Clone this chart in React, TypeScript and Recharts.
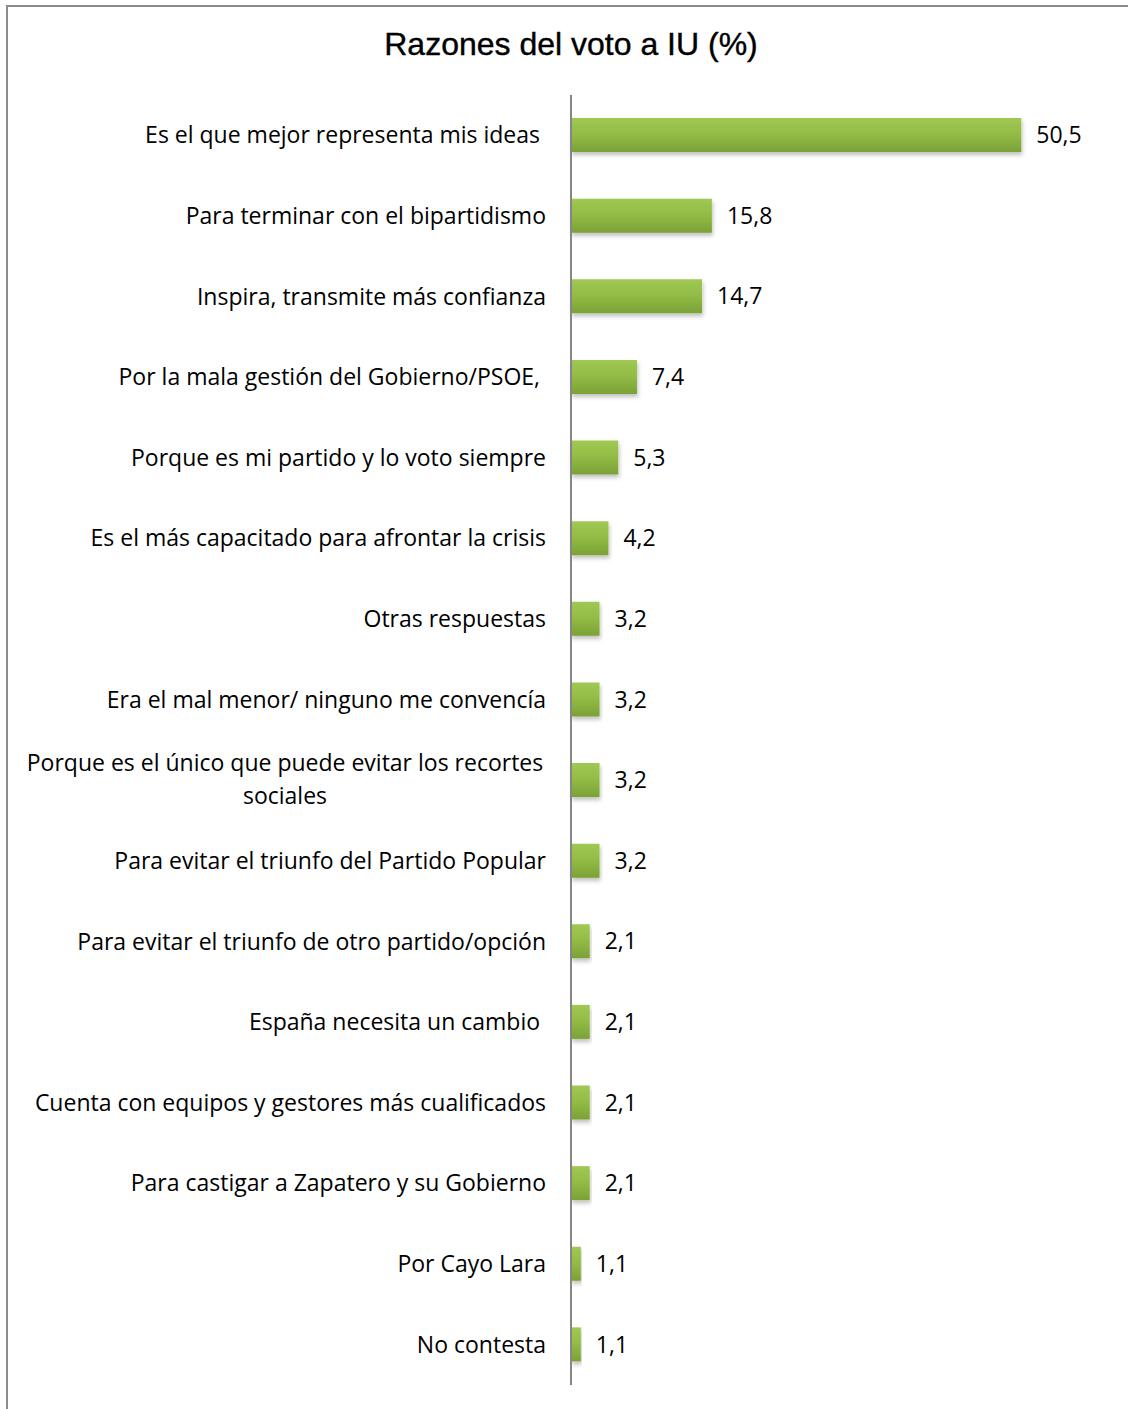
import { BarChart, Bar, XAxis, YAxis, LabelList } from 'recharts';

const razones = [
  'Es el que mejor representa mis ideas ',
  'Para terminar con el bipartidismo',
  'Inspira, transmite más confianza',
  'Por la mala gestión del Gobierno/PSOE, ',
  'Porque es mi partido y lo voto siempre',
  'Es el más capacitado para afrontar la crisis',
  'Otras respuestas',
  'Era el mal menor/ ninguno me convencía',
  'Porque es el único que puede evitar los recortes sociales',
  'Para evitar el triunfo del Partido Popular',
  'Para evitar el triunfo de otro partido/opción',
  'España necesita un cambio ',
  'Cuenta con equipos y gestores más cualificados',
  'Para castigar a Zapatero y su Gobierno',
  'Por Cayo Lara',
  'No contesta',
];

const porcentajes = [50.5, 15.8, 14.7, 7.4, 5.3, 4.2, 3.2, 3.2, 3.2, 3.2, 2.1, 2.1, 2.1, 2.1, 1.1, 1.1];

const data = razones.map((razon, i) => ({ razon, valor: porcentajes[i] }));

const FONT = '"Open Sans", sans-serif';

const formatValor = (v: any) => String(v).replace('.', ',');

const RazonTick = ({ x, y, payload }: any) => {
  const text: string = payload.value;
  if (text.length > 50) {
    // wrapped label, centered like Excel does it
    const cut = text.lastIndexOf(' ', 50);
    const lines = [text.slice(0, cut), text.slice(cut + 1)];
    return (
      <text x={285} y={y} textAnchor="middle" fontFamily={FONT} fontSize={23} fill="#000">
        {lines.map((l, i) => (
          <tspan key={i} x={285} dy={i === 0 ? -9 : 33}>{l}</tspan>
        ))}
      </text>
    );
  }
  return (
    <text x={x} y={y} dy={8} textAnchor="end" fontFamily={FONT} fontSize={23} fill="#000" style={{ whiteSpace: 'pre' }}>
      {text}
    </text>
  );
};

const App = () => {
  return (
    <div style={{ position: 'absolute', left: 0, top: 0, width: 1128, height: 1409, background: '#fff', overflow: 'hidden' }}>
      <div style={{ position: 'absolute', left: 6, top: 5, width: 1140, height: 1420, borderLeft: '2px solid #8c8c8c', borderTop: '2px solid #8c8c8c' }} />
      <div style={{ position: 'absolute', left: 0, width: 1142, top: 26, textAlign: 'center', fontFamily: '"Liberation Sans", Arial, sans-serif', fontSize: 32, color: '#000', WebkitTextStroke: '0.4px #000' }}>
        Razones del voto a IU (%)
      </div>
      <BarChart
        width={1128}
        height={1409}
        data={data}
        layout="vertical"
        margin={{ top: 95, right: 22, bottom: 24, left: 0 }}
        barSize={34}
      >
        <defs>
          <linearGradient id="verde" x1="0" y1="0" x2="0" y2="1">
            <stop offset="0%" stopColor="#a0c854" />
            <stop offset="45%" stopColor="#93bd46" />
            <stop offset="100%" stopColor="#7ba136" />
          </linearGradient>
          <filter id="sombra" x="-5%" y="-20%" width="115%" height="160%">
            <feDropShadow dx="1" dy="3" stdDeviation="2" floodColor="#000" floodOpacity="0.25" />
          </filter>
        </defs>
        <XAxis type="number" domain={[0, 60]} hide />
        <YAxis
          type="category"
          dataKey="razon"
          width={571}
          tickLine={false}
          axisLine={{ stroke: '#868686', strokeWidth: 2 }}
          tick={<RazonTick />}
          tickMargin={19}
          interval={0}
        />
        <Bar dataKey="valor" fill="url(#verde)" filter="url(#sombra)" isAnimationActive={false}>
          <LabelList
            dataKey="valor"
            position="right"
            offset={15}
            formatter={formatValor}
            style={{ fontFamily: FONT, fontSize: 23, fill: '#000' }}
          />
        </Bar>
      </BarChart>
    </div>
  );
};

export default App;
